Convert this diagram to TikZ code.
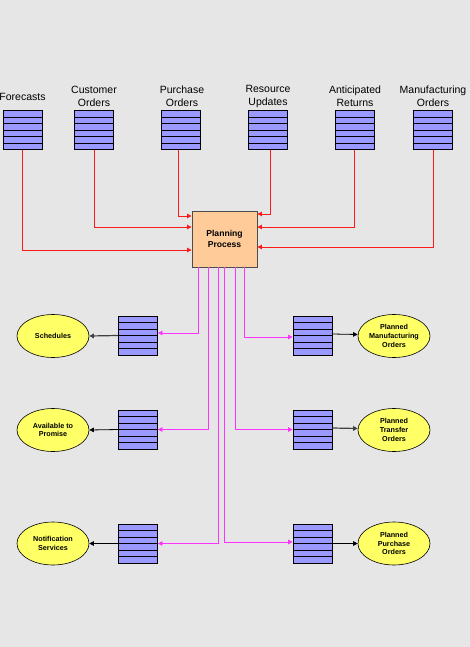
\documentclass[tikz,border=0pt]{standalone}
\usepackage{fontspec}
\setmainfont{Liberation Sans}
\usetikzlibrary{shapes.geometric,arrows.meta}
\definecolor{bgcol}{HTML}{E6E6E6}
\definecolor{stackfill}{HTML}{9999FF}
\definecolor{ovalfill}{HTML}{FFFF66}
\definecolor{boxfill}{HTML}{FFCC99}
\definecolor{feedred}{HTML}{FF1A1A}
\definecolor{outmag}{HTML}{FF33FF}

\begin{document}
\begin{tikzpicture}[x=1pt,y=-1pt,
  stackbox/.style={draw=black, line width=0.8pt, fill=stackfill, minimum width=39pt,
    minimum height=39pt, inner sep=0pt,
    path picture={\foreach \k in {1,...,5}
      \draw[line width=0.8pt] ([yshift=-\k*6.5pt]path picture bounding box.north west)
        -- ([yshift=-\k*6.5pt]path picture bounding box.north east);}},
  toplabel/.style={align=center, inner sep=0pt, font=\fontsize{10.5}{13}\selectfont},
  oval/.style={ellipse, draw=black, line width=0.6pt, fill=ovalfill, minimum width=72pt,
    minimum height=43pt, inner sep=0pt, align=center,
    font=\fontsize{7.2}{8.7}\selectfont\bfseries},
  planbox/.style={draw=black!70, line width=0.9pt, fill=boxfill, minimum width=65pt,
    minimum height=56pt, align=center, font=\fontsize{8.6}{10.4}\selectfont\bfseries},
  feed/.style={draw=feedred, line width=0.9pt, -{Triangle[length=4.5pt,width=4.5pt]}},
  outfeed/.style={draw=outmag, line width=1pt, -{Triangle[length=4.5pt,width=4.5pt]}},
  send/.style={line width=0.8pt, -{Triangle[length=4.5pt,width=4.5pt]}}]

\useasboundingbox (0,0) rectangle (470,647);
\fill[bgcol] (0,0) rectangle (470,647);

% input queues
\node[stackbox] (fc) at (22.5,130) {};
\node[stackbox] (co) at (94,130) {};
\node[stackbox] (po) at (181,130) {};
\node[stackbox] (ru) at (267.5,130) {};
\node[stackbox] (ar) at (354.5,130) {};
\node[stackbox] (mo) at (433,130) {};

\node[toplabel] (fclab) at (22.5,96.5) {Forecasts};
\node[toplabel] (colab) at (94,96.5) {Customer\\Orders};
\node[toplabel] (polab) at (182,96.5) {Purchase\\Orders};
\node[toplabel] (rulab) at (268,96.5) {Resource\\Updates};
\node[toplabel] (arlab) at (355,96.5) {Anticipated\\Returns};
\node[toplabel] (molab) at (433,96.5) {Manufacturing\\Orders};

% planner
\node[planbox] (pp) at (224.5,239) {Planning\\Process};

\draw[feed] (fc.south) |- ([yshift=-11pt]pp.west);
\draw[feed] (co.south) |- ([yshift=12pt]pp.west);
\draw[feed] ([xshift=-3pt]po.south) |- ([yshift=23pt]pp.west);
\draw[feed] ([xshift=2.5pt]ru.south) |- ([yshift=25pt]pp.east);
\draw[feed] (ar.south) |- ([yshift=12pt]pp.east);
\draw[feed] (mo.south) |- ([yshift=-8pt]pp.east);

% output queues
\node[stackbox] (schq) at (138,335.5) {};
\node[stackbox] (atpq) at (138,429.5) {};
\node[stackbox] (notq) at (138,543.5) {};
\node[stackbox] (pmoq) at (312.5,335.5) {};
\node[stackbox] (ptoq) at (312.5,429.5) {};
\node[stackbox] (ppoq) at (312.5,543.5) {};

\node[oval] (sch) at (53,336) {Schedules};
\node[oval] (atp) at (53,430) {Available to\\Promise};
\node[oval] (nots) at (53,543.5) {Notification\\Services};
\node[oval] (pmo) at (394,336) {Planned\\Manufacturing\\Orders};
\node[oval] (pto) at (394,430) {Planned\\Transfer\\Orders};
\node[oval] (ppo) at (394,543.5) {Planned\\Purchase\\Orders};

\draw[outfeed] ([xshift=-26.5pt]pp.south) |- ([yshift=2.5pt]schq.east);
\draw[outfeed] ([xshift=-16.5pt]pp.south) |- (atpq.east);
\draw[outfeed] ([xshift=-6.5pt]pp.south) |- (notq.east);
\draw[outfeed] ([xshift=-0.5pt]pp.south) |- ([yshift=1.5pt]ppoq.west);
\draw[outfeed] ([xshift=10.5pt]pp.south) |- (ptoq.west);
\draw[outfeed] ([xshift=19.5pt]pp.south) |- ([yshift=-1.5pt]pmoq.west);

\draw[send, black!75, line width=1.2pt] (schq.west) -- (sch.east);
\draw[send] (atpq.west) -- (atp.east);
\draw[send] (notq.west) -- (nots.east);
\draw[send] ([yshift=1.5pt]pmoq.east) -- ([yshift=1.5pt]pmo.west);
\draw[send, black!75, line width=1.2pt] ([yshift=1.5pt]ptoq.east) -- ([yshift=1.5pt]pto.west);
\draw[send] (ppoq.east) -- (ppo.west);
\end{tikzpicture}
\end{document}
